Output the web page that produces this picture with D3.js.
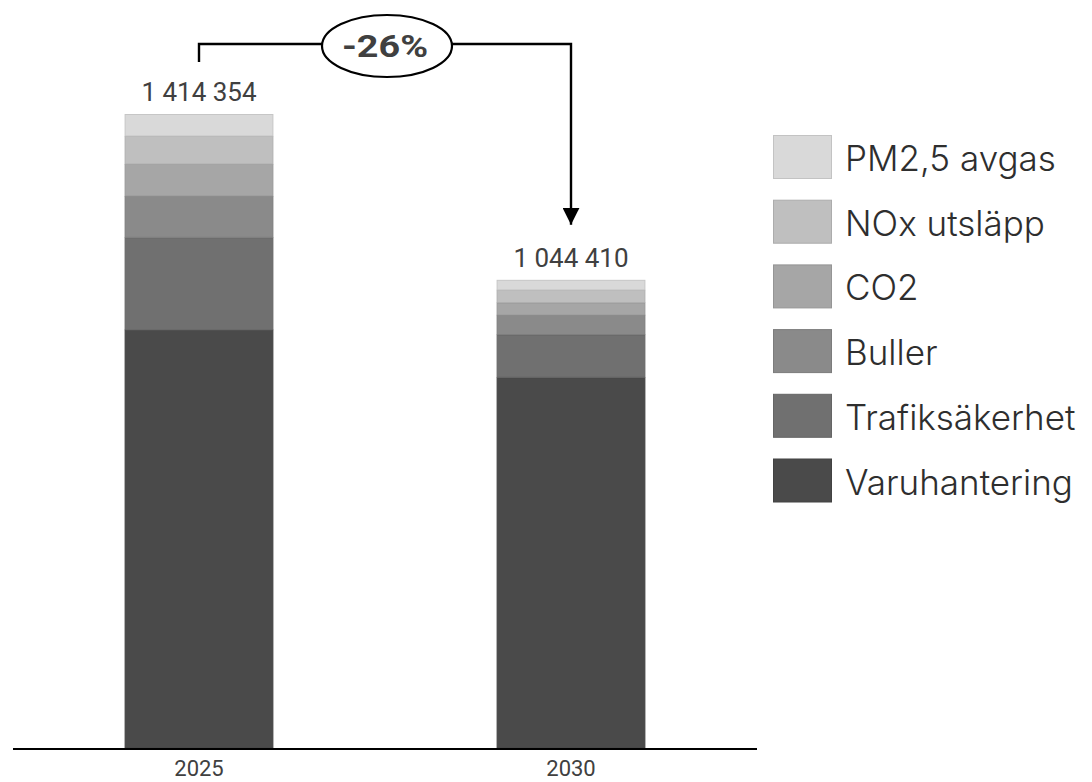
<!DOCTYPE html>
<html>
<head>
<meta charset="utf-8">
<script src="https://cdn.jsdelivr.net/npm/d3@7"></script>
<style>
  html, body { margin: 0; padding: 0; background: #ffffff; }
  svg { display: block; }
</style>
</head>
<body>
<svg id="chart" width="1092" height="782"></svg>
<script>
// ---- Data ----
const years = ["2025", "2030"];
const series = ["Varuhantering", "Trafiksäkerhet", "Buller", "CO2", "NOx utsläpp", "PM2,5 avgas"];
const varuhantering = [933340, 827190];
const trafiksakerhet = [205850, 95230];
const buller = [92330, 43940];
const co2 = [71370, 27430];
const nox = [62450, 28320];
const pm25 = [49014, 22300];
const totals = [1414354, 1044410];
const totalLabels = ["1 414 354", "1 044 410"];
const changeLabel = "-26%";
const colors = ["#4a4a4a", "#707070", "#8a8a8a", "#a6a6a6", "#bfbfbf", "#d9d9d9"];

const valuesBySeries = [varuhantering, trafiksakerhet, buller, co2, nox, pm25];
const table = years.map((y, i) => {
  const row = { year: y };
  series.forEach((s, j) => { row[s] = valuesBySeries[j][i]; });
  return row;
});

const svg = d3.select("#chart");
const x = d3.scaleBand().domain(years).range([13, 757]).paddingInner(0.6).paddingOuter(0.3);
const y = d3.scaleLinear().domain([0, totals[0]]).range([748, 114]);
const color = d3.scaleOrdinal().domain(series).range(colors);

const stacked = d3.stack().keys(series)(table);

svg.append("g")
  .selectAll("g")
  .data(stacked)
  .join("g")
  .attr("fill", d => color(d.key))
  .attr("stroke", d => d3.color(color(d.key)).darker(0.25))
  .attr("stroke-width", 1)
  .selectAll("rect")
  .data(d => d)
  .join("rect")
  .attr("x", d => x(d.data.year) + 0.5)
  .attr("width", x.bandwidth() - 1)
  .attr("y", d => y(d[1]) + 0.5)
  .attr("height", d => Math.max(0, y(d[0]) - y(d[1]) - 0.5));

// x axis
const xAxis = svg.append("g")
  .attr("transform", "translate(0,749)")
  .call(d3.axisBottom(x).tickSize(0).tickPadding(0));
xAxis.select(".domain").attr("stroke", "#000").attr("stroke-width", 2.2).attr("d", "M13,0H757");
xAxis.selectAll("text")
  .attr("dy", null)
  .attr("y", 27)
  .attr("font-family", "Roboto, 'Liberation Sans', Arial, sans-serif")
  .attr("font-size", 22)
  .attr("fill", "#404040");

// total labels
svg.append("g")
  .selectAll("text")
  .data(years)
  .join("text")
  .attr("x", d => x(d) + x.bandwidth() / 2)
  .attr("y", (d, i) => y(totals[i]) - 13)
  .attr("text-anchor", "middle")
  .attr("font-family", "Roboto, 'Liberation Sans', Arial, sans-serif")
  .attr("font-size", 26)
  .attr("fill", "#404040")
  .text((d, i) => totalLabels[i]);

// connector with ellipse and arrow
const x1 = x(years[0]) + x.bandwidth() / 2;
const x2 = x(years[1]) + x.bandwidth() / 2;
const lineY = 44;
const ecx = 387, ecy = 46, erx = 65, ery = 31;
const arrowTip = y(totals[1]) - 55;

svg.append("defs").append("marker")
  .attr("id", "arrow")
  .attr("viewBox", "0 0 10 10")
  .attr("refX", 10).attr("refY", 5)
  .attr("markerWidth", 17).attr("markerHeight", 17)
  .attr("markerUnits", "userSpaceOnUse")
  .attr("orient", "auto")
  .append("path").attr("d", "M0,0L10,5L0,10Z").attr("fill", "#000");

svg.append("path")
  .attr("d", `M${x1},${y(totals[0]) - 52}V${lineY}H${ecx - erx}`)
  .attr("fill", "none").attr("stroke", "#000").attr("stroke-width", 2.4);
svg.append("path")
  .attr("d", `M${ecx + erx},${lineY}H${x2}V${arrowTip}`)
  .attr("fill", "none").attr("stroke", "#000").attr("stroke-width", 2.4)
  .attr("marker-end", "url(#arrow)");
svg.append("ellipse")
  .attr("cx", ecx).attr("cy", ecy).attr("rx", erx).attr("ry", ery)
  .attr("fill", "#fff").attr("stroke", "#000").attr("stroke-width", 2.2);
svg.append("text")
  .attr("x", ecx - 2).attr("y", 57)
  .attr("text-anchor", "middle")
  .attr("font-family", "Roboto, 'Liberation Sans', Arial, sans-serif")
  .attr("font-weight", "bold")
  .attr("font-size", 32)
  .attr("textLength", 86)
  .attr("lengthAdjust", "spacingAndGlyphs")
  .attr("fill", "#404040")
  .text(changeLabel);

// legend (top = PM2,5)
const legendOrder = series.slice().reverse();
const legend = svg.append("g").attr("transform", "translate(773,135)");
const li = legend.selectAll("g")
  .data(legendOrder)
  .join("g")
  .attr("transform", (d, i) => `translate(0,${i * 64.7})`);
li.append("rect")
  .attr("x", 0.5).attr("y", 0.5)
  .attr("width", 58).attr("height", 43)
  .attr("fill", d => color(d))
  .attr("stroke", d => d3.color(color(d)).darker(0.3))
  .attr("stroke-width", 1);
li.append("text")
  .attr("x", 72).attr("y", 36)
  .attr("font-family", "Inter, 'Open Sans', sans-serif")
  .attr("font-size", 35)
  .attr("font-weight", 300)
  .attr("fill", "#2e2e2e")
  .text(d => d);
</script>
</body>
</html>
